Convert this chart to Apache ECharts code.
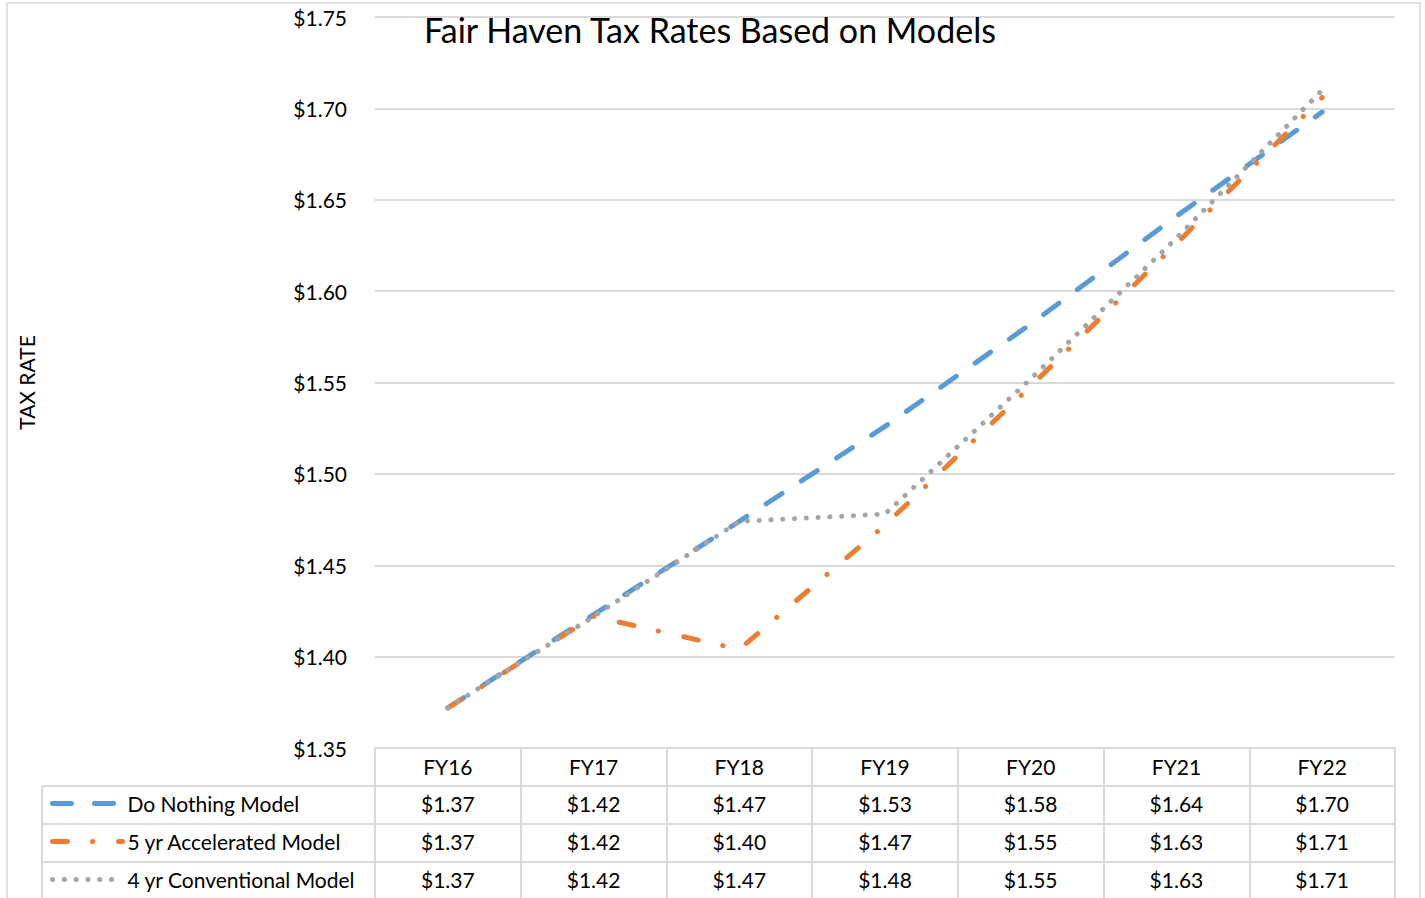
<!DOCTYPE html>
<html>
<head>
<meta charset="utf-8">
<title>Fair Haven Tax Rates Based on Models</title>
<script src="https://cdn.jsdelivr.net/npm/echarts@6/dist/echarts.min.js"></script>
<style>
  html, body { margin: 0; padding: 0; background: #fff; }
  #main { width: 1425px; height: 898px; }
</style>
</head>
<body>
<div id="main"></div>
<script>
// fiscal years on the x axis
var years = ['FY16', 'FY17', 'FY18', 'FY19', 'FY20', 'FY21', 'FY22']

// tax rate per model
var doNothing = [1.372, 1.423, 1.474, 1.526, 1.582, 1.641, 1.698]
var accelerated = [1.372, 1.422, 1.404, 1.472, 1.548, 1.626, 1.706]
var conventional = [1.372, 1.422, 1.474, 1.478, 1.552, 1.629, 1.710]

var seriesNames = ['Do Nothing Model', '5 yr Accelerated Model', '4 yr Conventional Model']
var seriesValues = [doNothing, accelerated, conventional]
var seriesColors = ['#5B9BD5', '#ED7D31', '#A5A5A5']
var dashes = [[19, 23], [15, 25, 0.1, 26], [0.1, 11.7]]

var yTicks = { min: 1.35, max: 1.75, step: 0.05 }

var font = 'Lato, "Open Sans", sans-serif'
var gridColor = '#d9d9d9'
var rowH = 38

function money (v) {
  return '$' + v.toFixed(2)
}

// the data table under the chart is built from extra category axes
var xAxes = [{
  type: 'category',
  data: years,
  position: 'bottom',
  boundaryGap: true,
  axisLine: { lineStyle: { color: gridColor, width: 2 } },
  axisTick: { show: true, interval: 0, length: rowH, lineStyle: { color: gridColor, width: 2 } },
  axisLabel: { fontFamily: font, fontSize: 21, color: '#000', margin: 8, lineHeight: 20 }
}]
seriesValues.forEach(function (vals, k) {
  xAxes.push({
    type: 'category',
    data: years,
    position: 'bottom',
    offset: rowH * (k + 1),
    boundaryGap: true,
    axisLine: { lineStyle: { color: gridColor, width: 2 } },
    axisTick: { show: true, interval: 0, length: rowH, lineStyle: { color: gridColor, width: 2 } },
    axisLabel: {
      fontFamily: font, fontSize: 21, color: '#000', margin: 7, lineHeight: 20,
      formatter: function (v, i) { return money(vals[i]) }
    }
  })
})

var series = seriesValues.map(function (vals, k) {
  return {
    name: seriesNames[k],
    type: 'line',
    xAxisIndex: 0,
    data: vals,
    symbol: 'none',
    color: seriesColors[k],
    lineStyle: { color: seriesColors[k], width: 5, type: dashes[k], cap: 'round' }
  }
})

var chart = echarts.init(document.getElementById('main'), null, { renderer: 'svg' })

var option = {
  animation: false,
  backgroundColor: '#fff',
  title: {
    text: 'Fair Haven Tax Rates Based on Models',
    left: 424,
    top: 12,
    padding: 0,
    textStyle: { fontFamily: font, fontSize: 34, fontWeight: 'normal', color: '#000' }
  },
  legend: {
    orient: 'vertical',
    left: 50,
    top: 793,
    itemWidth: 70,
    itemHeight: 14,
    itemGap: 17,
    padding: 0,
    data: seriesNames,
    itemStyle: { opacity: 0 },
    lineStyle: { width: 5, cap: 'round' },
    textStyle: { fontFamily: font, fontSize: 21, color: '#000', lineHeight: 20 }
  },
  grid: { left: 375, right: 30, top: 17, bottom: 150 },
  xAxis: xAxes,
  yAxis: {
    type: 'value',
    min: yTicks.min,
    max: yTicks.max,
    interval: yTicks.step,
    name: 'TAX RATE',
    nameLocation: 'middle',
    nameRotate: 90,
    nameGap: 338,
    nameTextStyle: { fontFamily: font, fontSize: 21, color: '#000' },
    axisLine: { show: false },
    axisTick: { show: false },
    axisLabel: { fontFamily: font, fontSize: 21, color: '#000', margin: 28, formatter: money },
    splitLine: { lineStyle: { color: gridColor, width: 2 } }
  },
  graphic: [
    // chart frame
    { type: 'rect', shape: { x: 7, y: 3, width: 1413, height: 905 }, style: { fill: 'none', stroke: gridColor, lineWidth: 1.5 }, silent: true },
    // left part of the data table (legend column)
    { type: 'line', shape: { x1: 42, y1: 786, x2: 375, y2: 786 }, style: { stroke: gridColor, lineWidth: 2 } },
    { type: 'line', shape: { x1: 42, y1: 824, x2: 375, y2: 824 }, style: { stroke: gridColor, lineWidth: 2 } },
    { type: 'line', shape: { x1: 42, y1: 862, x2: 375, y2: 862 }, style: { stroke: gridColor, lineWidth: 2 } },
    { type: 'line', shape: { x1: 42, y1: 786, x2: 42, y2: 900 }, style: { stroke: gridColor, lineWidth: 2 } },
    { type: 'line', shape: { x1: 375, y1: 748, x2: 375, y2: 900 }, style: { stroke: gridColor, lineWidth: 2 } }
  ],
  series: series
}

chart.setOption(option)

window.onresize = function () {
  chart.resize()
}
</script>
</body>
</html>
